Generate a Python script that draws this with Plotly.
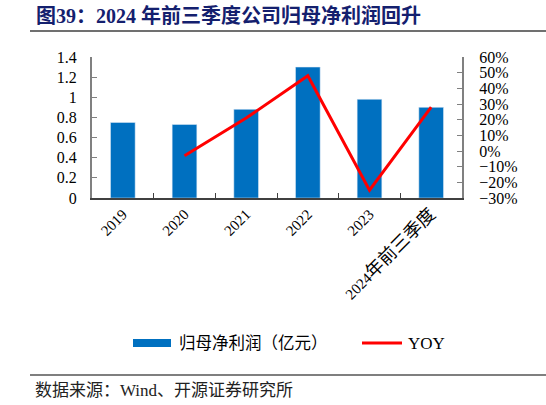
import plotly.graph_objects as go

# 数据
years = ["2019", "2020", "2021", "2022", "2023", "2024年前三季度"]
yearLabels = ["2019", "2020", "2021", "2022", "2023",
              "2024<span style='font-size:18px'>年前三季度</span>"]
profit = [0.75, 0.73, 0.88, 1.30, 0.98, 0.90]          # 归母净利润（亿元）
yoy = [None, -0.03, 0.21, 0.48, -0.25, 0.28]           # YOY

titleText = "图39：2024 年前三季度公司归母净利润回升"
sourceText = "数据来源：Wind、开源证券研究所"
barName = "归母净利润（亿元）"
lineName = "YOY"

barColor = "#0070C0"
lineColor = "#FF0000"
titleColor = "#14206E"
axisColor = "#808080"
latinFont = "Liberation Serif"
cjkFont = "Liberation Serif, Noto Sans CJK SC"

W, H = 546, 405
L, R, T, B = 92, 462, 57, 198


def px(x):
    return (x - L) / (R - L)


def py(y):
    return (B - y) / (B - T)


fig = go.Figure()
fig.add_trace(go.Bar(x=years, y=profit, name=barName, marker_color=barColor,
                     width=0.4, showlegend=False, yaxis="y"))
fig.add_trace(go.Scatter(x=years, y=yoy, name=lineName, mode="lines",
                         line=dict(color=lineColor, width=3),
                         showlegend=False, yaxis="y2"))

fig.update_layout(
    width=W, height=H,
    margin=dict(l=L, r=W - R, t=T, b=H - B),
    plot_bgcolor="white", paper_bgcolor="white",
    font=dict(family=latinFont, color="black", size=15),
    xaxis=dict(type="category", tickangle=-45, showline=True, linecolor="#404040",
               linewidth=1.5, ticks="inside", tickson="boundaries", ticklen=5,
               tickcolor="#404040", tickvals=years, ticktext=yearLabels,
               tickfont=dict(size=15, family=cjkFont)),
    yaxis=dict(range=[0, 1.4], dtick=0.2, showgrid=False, zeroline=False,
               showline=True, linecolor=axisColor, linewidth=2, ticks="inside",
               ticklen=5, tickcolor=axisColor, ticklabelstandoff=10,
               tickfont=dict(size=16)),
    yaxis2=dict(range=[-0.3, 0.6], dtick=0.1, tickformat=".0%", overlaying="y",
                side="right", showgrid=False, zeroline=False, showline=True,
                linecolor=axisColor, linewidth=2, ticks="inside", ticklen=5,
                tickcolor=axisColor, ticklabelstandoff=12, tickfont=dict(size=16)),
)

# 标题、分隔线、来源
fig.add_annotation(text="<b>" + titleText + "</b>", xref="paper", yref="paper",
                   x=px(34), y=py(15), xanchor="left", yanchor="middle", showarrow=False,
                   font=dict(size=20, color=titleColor, family=cjkFont))
fig.add_shape(type="line", xref="paper", yref="paper", x0=px(30), x1=px(546),
              y0=py(31), y1=py(31), line=dict(color="#404040", width=1.5))
fig.add_shape(type="line", xref="paper", yref="paper", x0=px(30), x1=px(546),
              y0=py(375), y1=py(375), line=dict(color="black", width=1.2))
fig.add_annotation(text=sourceText, xref="paper", yref="paper",
                   x=px(33), y=py(390), xanchor="left", yanchor="middle", showarrow=False,
                   font=dict(size=17, color="#222222", family=cjkFont))

# 图例
fig.add_shape(type="rect", xref="paper", yref="paper", x0=px(133), x1=px(171),
              y0=py(347), y1=py(339), fillcolor=barColor, line=dict(width=0))
fig.add_annotation(text=barName, xref="paper", yref="paper", x=px(177), y=py(343),
                   xanchor="left", yanchor="middle", showarrow=False,
                   font=dict(size=16.5, family=cjkFont))
fig.add_shape(type="line", xref="paper", yref="paper", x0=px(362), x1=px(402),
              y0=py(343), y1=py(343), line=dict(color=lineColor, width=3))
fig.add_annotation(text=lineName, xref="paper", yref="paper", x=px(406), y=py(343),
                   xanchor="left", yanchor="middle", showarrow=False,
                   font=dict(size=17, family=latinFont))

# page body has a default 8px margin; drop it so the figure fills the window
fig.write_html("out.html", config={"displayModeBar": False},
               post_script="document.body.style.margin='0';")
